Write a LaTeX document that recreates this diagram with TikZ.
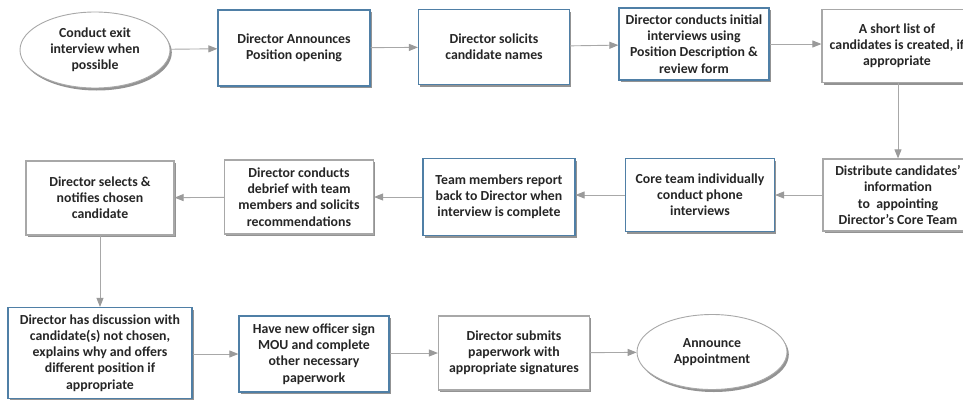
\documentclass[tikz,border=0pt]{standalone}
\usepackage{fontspec}
\setmainfont{Carlito}
\usetikzlibrary{shapes.geometric,arrows.meta,shadows}
\definecolor{bluebd}{HTML}{4F7FA6}
\definecolor{graybd}{HTML}{A8A8A8}
\definecolor{linec}{HTML}{A8A8A8}
\definecolor{tipc}{HTML}{9A9A9A}
\begin{document}
\begin{tikzpicture}[x=1pt,y=-1pt,
  every node/.style={font=\bfseries\fontsize{13.8}{16.2}\selectfont, text=black!85, align=center},
  base/.style={rectangle, fill=white, line width=1.2pt,
     drop shadow={shadow xshift=1.6pt, shadow yshift=-2pt, fill=black!60, opacity=0.7}},
  bluebox/.style={base, draw=bluebd},
  graybox/.style={base, draw=graybd},
  oval/.style={ellipse, fill=white, draw=graybd, line width=0.9pt,
     drop shadow={shadow xshift=1.8pt, shadow yshift=-2.5pt, fill=black!60, opacity=0.7}},
  conn/.style={draw=linec, line width=0.9pt, -{Triangle[length=9pt,width=7pt,fill=tipc,color=tipc]}}
]
\useasboundingbox (0,0) rectangle (963,399);
\fill[white] (0,0) rectangle (963,399);
\clip (0,0) rectangle (963,399);

% Row 1
\node[oval, minimum width=150pt, minimum height=76pt, inner sep=0pt] (exit) at (95,50) {Conduct exit\\interview when\\possible};
\node[bluebox, minimum width=152pt, minimum height=76pt] (ann) at (294,48) {Director Announces\\Position opening};
\node[bluebox, minimum width=151pt, minimum height=75pt] (sol) at (494,47) {Director solicits\\candidate names};
\node[bluebox, minimum width=150pt, minimum height=72pt, inner sep=1pt] (init) at (694,44) {Director conducts initial\\interviews using\\Position Description \&\\review form};
\node[graybox, minimum width=150pt, minimum height=73pt, inner sep=1pt] (short) at (897,46) {A short list of\\candidates is created, if\\appropriate};

% Row 2
\node[graybox, minimum width=150pt, minimum height=72pt, inner sep=1pt] (dist) at (898,195) {Distribute candidates'\\information\\to\ \ appointing\\Director's Core Team};
\node[bluebox, minimum width=149pt, minimum height=73pt] (core) at (700,195) {Core team individually\\conduct phone\\interviews};
\node[bluebox, minimum width=152pt, minimum height=77pt] (team) at (499,197) {Team members report\\back to Director when\\interview is complete};
\node[graybox, minimum width=149pt, minimum height=74pt, inner sep=1pt] (debrief) at (299,197) {Director conducts\\debrief with team\\members and solicits\\recommendations};
\node[graybox, minimum width=148pt, minimum height=74pt] (select) at (100,198) {Director selects \&\\notifies chosen\\candidate};

% Row 3
\node[bluebox, minimum width=184pt, minimum height=91pt, inner sep=1pt] (disc) at (100,353) {Director has discussion with\\candidate(s) not chosen,\\explains why and offers\\different position if\\appropriate};
\node[bluebox, minimum width=150pt, minimum height=76pt, inner sep=1pt] (mou) at (314,354) {Have new officer sign\\MOU and complete\\other necessary\\paperwork};
\node[graybox, minimum width=151pt, minimum height=74pt, inner sep=1pt] (submit) at (514,353) {Director submits\\paperwork with\\appropriate signatures};
\node[oval, minimum width=150pt, minimum height=75pt, inner sep=0pt] (annc) at (712,352) {Announce\\Appointment};

% Connectors
\draw[conn] (exit) -- (ann);
\draw[conn] (ann) -- (sol);
\draw[conn] (sol) -- (init);
\draw[conn] (init.east) -- (short.west |- init.east);
\draw[conn] (short.south -| dist.north) -- (dist.north);
\draw[conn] (dist) -- (core);
\draw[conn] (core.west) -- (team.east |- core.west);
\draw[conn] (team) -- (debrief);
\draw[conn] (debrief) -- (select);
\draw[conn] (select) -- (disc);
\draw[conn] (disc.east |- mou.west) -- (mou.west);
\draw[conn] (mou.east |- submit.west) -- (submit.west);
\draw[conn] (submit) -- (annc);
\end{tikzpicture}
\end{document}
